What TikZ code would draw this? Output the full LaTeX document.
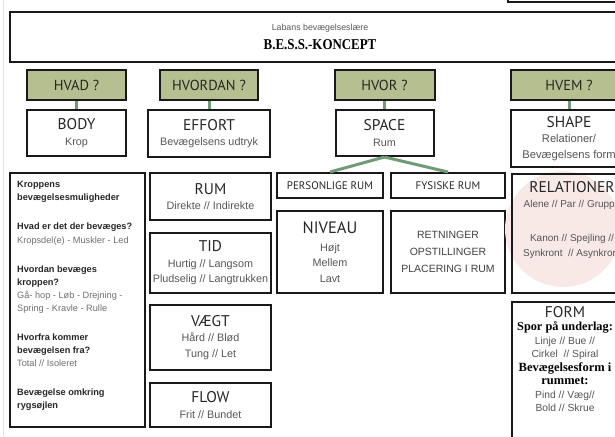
\documentclass[tikz,border=0pt]{standalone}
\usepackage{fontspec}
\setmainfont{Liberation Sans}
\newfontfamily\headfont{PT Sans}
\newfontfamily\titlefont[FakeStretch=0.86]{Liberation Serif}
\newfontfamily\formfont{Liberation Serif}
\definecolor{hdrgreen}{HTML}{B5BF8F}
\definecolor{lnkgreen}{HTML}{6F9B76}
\definecolor{txtgray}{HTML}{555555}
\definecolor{pinkbg}{HTML}{F8E9E7}
\newcommand{\hd}[1]{{\color{black!85}\headfont\fontsize{15.5}{15.5}\selectfont #1}}
\newcommand{\sq}[1]{{\color{black!85}\bfseries #1}}

\begin{document}
\begin{tikzpicture}[x=1pt,y=-1pt,
    box/.style={draw=black!90,line width=2pt,inner sep=0pt,align=center,text=txtgray,
      font=\fontsize{10.8}{15.5}\selectfont},
    qbox/.style={box,fill=hdrgreen,text=black!85,font=\headfont\fontsize{14.5}{15}\selectfont,
      minimum height=30pt},
    capbox/.style={box,minimum height=25pt,text=black!85,font=\headfont\fontsize{11}{12}\selectfont},
    link/.style={lnkgreen,line width=3pt}]
  \useasboundingbox (0,0) rectangle (615,436);
  \clip (0,0) rectangle (615,436);
  \draw[black!12,line width=1pt] (3,0) -- (3,436);
  \draw[black!90,line width=2pt] (508,-10) rectangle (630,2);

  % title
  \node[box,line width=2.5pt,minimum width=620pt,minimum height=50pt] (title) at (320,37)
    {{\fontsize{8.8}{11}\selectfont Labans bevægelseslære}\\[3pt]
     {\color{black}\titlefont\bfseries\fontsize{15}{15}\selectfont B.E.S.S.-KONCEPT}};

  % questions
  \node[qbox,minimum width=99pt] (hvad) at (76.5,85) {HVAD ?};
  \node[qbox,minimum width=98pt] (hvordan) at (209,85) {HVORDAN ?};
  \node[qbox,minimum width=100pt] (hvor) at (384.5,85) {HVOR ?};
  \node[qbox,minimum width=116pt] (hvem) at (569,85) {HVEM ?};

  \node[box,minimum width=99pt,minimum height=46pt] (body) at (76.5,133) {\hd{BODY}\\Krop};
  \node[box,minimum width=122pt,minimum height=47pt] (effort) at (209,133.5) {\hd{EFFORT}\\Bevægelsens udtryk};
  \node[box,minimum width=98pt,minimum height=46pt] (space) at (384.5,133) {\hd{SPACE}\\Rum};
  \node[box,minimum width=116pt,minimum height=57pt,font=\fontsize{11.2}{15.5}\selectfont] (shape) at (569,138.5)
    {\hd{SHAPE}\\Relationer/\\Bevægelsens form};

  \draw[link] (hvad.south) -- (body.north);
  \draw[link] (hvordan.south) -- (effort.north);
  \draw[link] (hvor.south) -- (space.north);
  \draw[link] (hvem.south) -- (shape.north);

  % body
  \node[box,line width=2.5pt,minimum width=135pt,minimum height=254pt] (kroppen) at (77.5,300) {};
  \node[anchor=north west,inner sep=0pt,align=left,text=txtgray!85,
    font=\fontsize{9.2}{13.2}\selectfont] (kroptxt) at (17,181)
    {\sq{Kroppens}\\
     \sq{bevægelsesmuligheder}\\[16pt]
     \sq{Hvad er det der bevæges?}\\
     Kropsdel(e) - Muskler - Led\\[16pt]
     \sq{Hvordan bevæges}\\
     \sq{kroppen?}\\
     Gå- hop - Løb - Drejning -\\
     Spring - Kravle - Rulle\\[15pt]
     \sq{Hvorfra kommer}\\
     \sq{bevægelsen fra?}\\
     Total // Isoleret\\[16pt]
     \sq{Bevægelse omkring}\\
     \sq{rygsøjlen}};

  % effort
  \node[box,minimum width=121pt,minimum height=47pt] (rum) at (210.5,196.5) {\hd{RUM}\\Direkte // Indirekte};
  \node[box,minimum width=121pt,minimum height=60pt] (tid) at (210.5,263)
    {\hd{TID}\\Hurtig // Langsom\\Pludselig // Langtrukken};
  \node[box,minimum width=121pt,minimum height=65pt] (vaegt) at (210.5,337.5)
    {\hd{VÆGT}\\Hård // Blød\\Tung // Let};
  \node[box,minimum width=121pt,minimum height=44pt] (flow) at (210.5,405) {\hd{FLOW}\\Frit // Bundet};

  % space
  \node[capbox,minimum width=106pt] (personlige) at (330,185.5) {PERSONLIGE RUM};
  \node[capbox,minimum width=114pt] (fysiske) at (448,185.5) {FYSISKE RUM};
  \draw[link] (space.south) -- (personlige.north);
  \draw[link] (space.south) -- (fysiske.north);
  \node[box,minimum width=106pt,minimum height=82pt] (niveau) at (330,252)
    {\hd{\fontsize{16.5}{15.5}\selectfont NIVEAU}\\[2pt]Højt\\Mellem\\Lavt};
  \node[box,minimum width=114pt,minimum height=82pt,text=black!75,
    font=\fontsize{10.5}{17}\selectfont] (retninger) at (448,252)
    {RETNINGER\\OPSTILLINGER\\PLACERING I RUM};

  % shape
  \fill[pinkbg] (563,229) circle (58pt);
  \node[box,minimum width=118pt,minimum height=119pt] (relationer) at (571,233.5) {};
  \node[anchor=north,inner sep=0pt,align=center,text=txtgray,
    font=\fontsize{10}{15}\selectfont] (reltxt) at (572,181)
    {\hd{RELATIONER}\\Alene // Par // Gruppe\\[19pt]Kanon // Spejling //\\Synkront~~// Asynkront};
  \node[box,minimum width=118pt,minimum height=150pt] (form) at (571,377) {};
  \node[anchor=north,inner sep=0pt,align=center,text=txtgray,
    font=\fontsize{10.3}{13.5}\selectfont] (formtxt) at (565,306)
    {\hd{FORM}\\
     {\color{black}\formfont\bfseries\fontsize{12.3}{13.5}\selectfont Spor på underlag:}\\
     Linje // Bue //\\
     Cirkel~~// Spiral\\
     {\color{black}\formfont\bfseries\fontsize{12.5}{13.5}\selectfont Bevægelsesform i}\\
     {\color{black}\formfont\bfseries\fontsize{12.5}{13.5}\selectfont rummet:}\\
     Pind // Væg//\\
     Bold // Skrue};
\end{tikzpicture}
\end{document}
